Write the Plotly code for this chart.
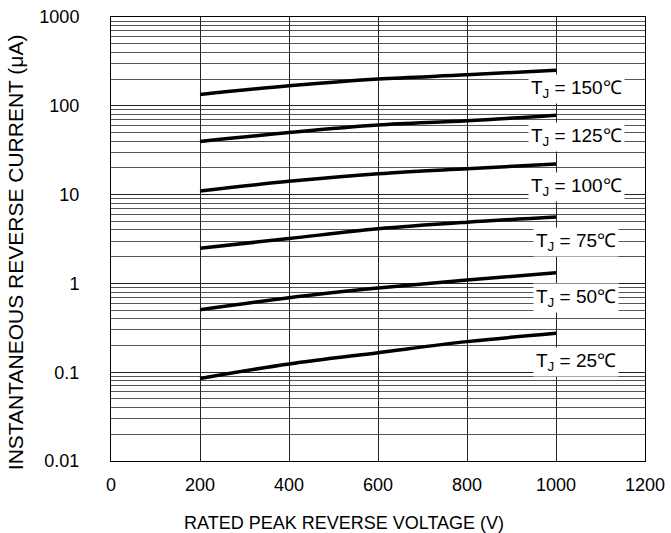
import plotly.graph_objects as go

voltage = [200, 400, 600, 800, 1000]
temps = ["150", "125", "100", "75", "50", "25"]
current_150 = [134, 168, 200, 223, 252]
current_125 = [39.7, 50, 60.7, 67.8, 78.5]
current_100 = [11.0, 14.1, 17.2, 19.6, 22.1]
current_75 = [2.49, 3.2, 4.12, 4.89, 5.6]
current_50 = [0.506, 0.69, 0.885, 1.09, 1.32]
current_25 = [0.085, 0.124, 0.166, 0.221, 0.274]
series = [current_150, current_125, current_100, current_75, current_50, current_25]

x_ticks = [0, 200, 400, 600, 800, 1000, 1200]
y_ticks = [0.01, 0.1, 1, 10, 100, 1000]
y_tick_labels = ["0.01", "0.1", "1", "10", "100", "1000"]
x_title = "RATED PEAK REVERSE VOLTAGE (V)"
y_title = "INSTANTANEOUS REVERSE CURRENT (\u03bcA)"

FONT = "Liberation Sans, Arial, sans-serif"

fig = go.Figure()
for vals in series:
    fig.add_trace(go.Scatter(x=voltage, y=vals, mode="lines",
                             line=dict(color="black", width=3.5, shape="spline"),
                             showlegend=False, hoverinfo="skip"))

label_pos_x = 1046
label_pos_y = [2.19, 1.652, 1.09, 0.461, -0.169, -0.888]
for t, ly in zip(temps, label_pos_y):
    fig.add_annotation(x=label_pos_x, y=ly, xref="x", yref="y",
                       text=f"T<sub>J</sub> = {t}\u2103", showarrow=False,
                       xanchor="center", yanchor="middle",
                       font=dict(family=FONT, size=19, color="black"),
                       bgcolor="white", borderpad=2)

fig.add_annotation(x=0.436, y=-0.14, xref="paper", yref="paper", text=x_title,
                   showarrow=False, xanchor="center", yanchor="middle",
                   font=dict(family=FONT, size=18, color="black"))
fig.add_annotation(x=-0.18, y=0.47, xref="paper", yref="paper", text=y_title,
                   showarrow=False, xanchor="center", yanchor="middle", textangle=-90,
                   font=dict(family=FONT, size=21, color="black"))

minor_vals = [m * 10 ** e for e in range(-2, 3) for m in range(2, 10)]

fig.update_layout(
    width=671, height=533,
    margin=dict(l=111, r=26, t=17, b=72),
    paper_bgcolor="white", plot_bgcolor="white",
    xaxis=dict(range=[0, 1200], tickvals=x_ticks, showgrid=True, automargin=False,
               gridcolor="#222", gridwidth=1, zeroline=False,
               showline=True, linecolor="black", linewidth=1, mirror=True,
               ticks="", ticklabelstandoff=7, ticklabeloverflow="allow",
               tickfont=dict(family=FONT, size=18, color="black")),
    yaxis=dict(type="log", range=[-2, 3], tickvals=y_ticks, ticktext=y_tick_labels,
               showgrid=True, gridcolor="#222", gridwidth=1, zeroline=False, automargin=False,
               showline=True, linecolor="black", linewidth=1, mirror=True,
               ticks="", ticklabelstandoff=27, ticklabeloverflow="allow",
               minor=dict(tickvals=minor_vals, showgrid=True, gridcolor="#555", gridwidth=1, ticks=""),
               tickfont=dict(family=FONT, size=18, color="black")),
)

fig.write_html("out.html", config={"displayModeBar": False},
               post_script="document.body.style.margin='0';document.body.style.overflow='hidden';")
